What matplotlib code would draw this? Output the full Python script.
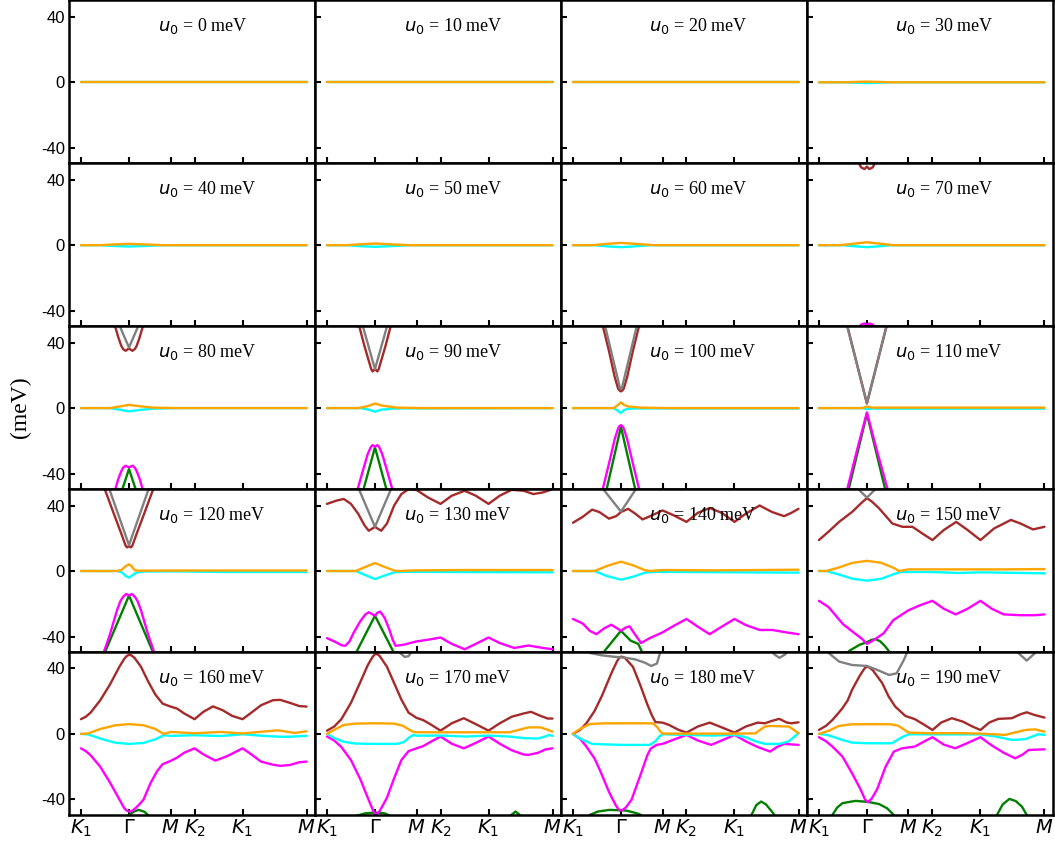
import matplotlib
matplotlib.use("Agg")
import matplotlib.pyplot as plt

plt.rcParams["axes.unicode_minus"] = False
plt.rcParams["mathtext.fontset"] = "dejavusans"

# Twist-potential values, one panel each
U0 = [0, 10, 20, 30, 40, 50, 60, 70, 80, 90,
      100, 110, 120, 130, 140, 150, 160, 170, 180, 190]

# High-symmetry path
K_TICKS = [0.0, 1.0, 1.866, 2.366, 3.366, 4.70]
K_LABELS = [r"$K_1$", r"$\Gamma$", r"$M$", r"$K_2$", r"$K_1$", r"$M$"]
E_TICKS = [-40, 0, 40]

COLORS = {"green": "#008000", "magenta": "#ff00ff", "brown": "#a52a2a",
          "gray": "#808080", "cyan": "#00ffff", "orange": "#ffa500"}
DRAW_ORDER = ["green", "magenta", "brown", "gray", "cyan", "orange"]

FLAT = [(0.0, 0.0), (4.70, 0.0)]

# Band energies (k, E in meV) per panel
u0_bands = dict(cyan=FLAT, orange=FLAT)
u10_bands = dict(cyan=FLAT, orange=FLAT)
u20_bands = dict(cyan=FLAT, orange=FLAT)
u30_bands = dict(
    cyan=[(0, 0), (0.5, 0), (1.0, -0.5), (1.5, 0), (4.70, 0)],
    orange=[(0, 0), (0.5, 0), (1.0, 0.4), (1.5, 0), (4.70, 0)],
)
u40_bands = dict(
    cyan=[(0, 0), (0.4, 0), (0.7, -0.5), (1.0, -0.8), (1.3, -0.5), (1.7, 0), (4.70, 0)],
    orange=[(0, 0), (0.4, 0), (0.7, 0.5), (1.0, 0.8), (1.3, 0.5), (1.7, 0), (4.70, 0)],
)
u50_bands = dict(
    cyan=[(0, 0), (0.4, 0), (0.7, -0.6), (1.0, -1.0), (1.3, -0.6), (1.7, 0), (4.70, 0)],
    orange=[(0, 0), (0.4, 0), (0.7, 0.6), (1.0, 1.0), (1.3, 0.6), (1.7, 0), (4.70, 0)],
)
u60_bands = dict(
    cyan=[(0, 0), (0.45, 0), (0.75, -0.8), (1.0, -1.2), (1.25, -0.8), (1.6, 0), (4.70, 0)],
    orange=[(0, 0), (0.4, 0), (0.7, 0.8), (1.0, 1.4), (1.3, 0.8), (1.7, 0), (4.70, 0)],
)
u70_bands = dict(
    brown=[(0.78, 53), (0.88, 47.5), (0.95, 46.5), (1.0, 48.0), (1.05, 46.5),
           (1.12, 47.5), (1.22, 53)],
    magenta=[(0.78, -53), (0.88, -48.5), (0.95, -47.8), (1.0, -48.8), (1.05, -47.8),
             (1.12, -48.5), (1.22, -53)],
    cyan=[(0, 0), (0.5, 0), (0.8, -0.8), (1.0, -1.2), (1.2, -0.8), (1.5, 0), (4.70, 0)],
    orange=[(0, 0), (0.44, 0), (0.75, 1.0), (1.0, 1.8), (1.25, 1.0), (1.55, 0), (4.70, 0)],
)
u80_bands = dict(
    green=[(0.8, -55), (1.0, -37.2), (1.2, -55)],
    magenta=[(0.6, -58), (0.71, -50), (0.78, -43), (0.84, -38.5), (0.88, -36.3),
             (0.93, -35.2), (0.97, -35.8), (1.0, -36.2), (1.03, -35.8), (1.07, -35.2),
             (1.12, -36.3), (1.16, -38.5), (1.22, -43), (1.29, -50), (1.4, -58)],
    brown=[(0.6, 58), (0.71, 50), (0.78, 43), (0.84, 38), (0.88, 36), (0.93, 35),
           (0.97, 35.8), (1.0, 36.6), (1.03, 35.8), (1.07, 35), (1.12, 36),
           (1.16, 38), (1.22, 43), (1.29, 50), (1.4, 58)],
    gray=[(0.75, 54), (1.0, 37), (1.25, 54)],
    cyan=[(0, 0), (0.6, 0), (0.85, -1.2), (1.0, -2), (1.2, -1.2), (1.5, -0.3),
          (2.0, 0), (4.70, 0)],
    orange=[(0, 0), (0.6, 0), (0.85, 1.2), (1.0, 2), (1.2, 1.2), (1.5, 0.3),
            (2.0, 0), (4.70, 0)],
)
u90_bands = dict(
    green=[(0.72, -54), (1.0, -24), (1.28, -54)],
    magenta=[(0.58, -56), (0.65, -48.4), (0.75, -38), (0.85, -28), (0.91, -24),
             (0.95, -22.6), (1.0, -23.6), (1.05, -22.6), (1.09, -24), (1.15, -28),
             (1.25, -38), (1.35, -48.4), (1.42, -56)],
    brown=[(0.6, 57), (0.68, 49.2), (0.78, 38), (0.88, 28), (0.92, 24), (0.95, 22.4),
           (1.0, 23.8), (1.05, 22.4), (1.08, 24), (1.12, 28), (1.22, 38),
           (1.32, 49.2), (1.4, 57)],
    gray=[(0.7, 55), (1.0, 23.8), (1.3, 55)],
    cyan=[(0, 0), (0.7, 0), (0.88, -1), (1.0, -2.2), (1.12, -1), (1.4, -0.2), (4.70, 0)],
    orange=[(0, 0), (0.65, 0), (0.85, 1.2), (1.0, 2.8), (1.15, 1.5), (1.45, 0.3),
            (2.0, 0), (4.70, 0)],
)
u100_bands = dict(
    green=[(0.66, -55), (1.0, -11.4), (1.34, -55)],
    magenta=[(0.55, -56), (0.63, -48.4), (0.75, -34), (0.87, -19), (0.94, -12.5),
             (0.97, -11), (1.0, -10.4), (1.03, -11), (1.06, -12.5), (1.13, -19),
             (1.25, -34), (1.37, -48.4), (1.45, -56)],
    brown=[(0.55, 58), (0.63, 49.2), (0.75, 35), (0.87, 19), (0.94, 12), (0.97, 10.8),
           (1.0, 10.2), (1.03, 10.8), (1.06, 12), (1.13, 19), (1.25, 35),
           (1.37, 49.2), (1.45, 58)],
    gray=[(0.63, 55), (0.98, 12.2), (1.0, 11.6), (1.02, 12.2), (1.37, 55)],
    cyan=[(0, 0), (0.85, 0), (0.93, -1.5), (1.0, -3), (1.05, -1.5), (1.12, -0.5),
          (1.3, -0.2), (4.70, -0.2)],
    orange=[(0, 0), (0.85, 0), (0.92, 1.5), (1.0, 3.5), (1.06, 2), (1.15, 1),
            (1.4, 0.3), (2.0, 0), (4.70, 0)],
)
u110_bands = dict(
    green=[(0.55, -58), (1.0, -3.5), (1.45, -58)],
    magenta=[(0.5, -58), (0.6, -48.4), (0.8, -25), (1.0, -2.6), (1.2, -25),
             (1.42, -48.4), (1.52, -58)],
    brown=[(0.5, 60), (0.6, 49.2), (1.0, 2.8), (1.4, 49.2), (1.5, 60)],
    gray=[(0.52, 58), (1.0, 3), (1.48, 58)],
    cyan=[(0, 0), (0.9, 0), (1.0, -0.6), (1.1, -0.3), (4.70, -0.3)],
    orange=[(0, 0), (0.9, 0), (1.0, 1), (1.1, 0.3), (4.70, 0.3)],
)
u120_bands = dict(
    green=[(0.45, -53), (1.0, -15), (1.55, -53)],
    magenta=[(0.3, -65), (0.47, -50), (0.6, -39), (0.75, -24), (0.82, -18.5),
             (0.87, -16), (0.94, -14), (1.0, -15), (1.06, -14), (1.13, -16),
             (1.18, -18.5), (1.25, -24), (1.4, -39), (1.53, -50), (1.7, -65)],
    brown=[(0.3, 65), (0.5, 49.6), (0.68, 35.3), (0.85, 22), (0.93, 15.5),
           (0.96, 14.4), (1.0, 15.2), (1.04, 14.4), (1.07, 15.5), (1.15, 22),
           (1.32, 35.3), (1.5, 49.6), (1.7, 65)],
    gray=[(0.4, 66), (1.0, 15.8), (1.6, 66)],
    cyan=[(0, 0), (0.75, 0), (0.85, -0.8), (0.93, -3), (1.0, -4.1), (1.06, -2.8),
          (1.15, -1), (1.3, -0.3), (2.0, -0.2), (3.0, -0.6), (4.70, -0.6)],
    orange=[(0, 0), (0.75, 0), (0.85, 0.8), (0.93, 3), (1.0, 4.1), (1.05, 3),
            (1.12, 0.5), (1.2, 0.2), (2.0, 0.3), (4.70, 0.3)],
)
u130_bands = dict(
    green=[(0.5, -56), (1.0, -27.3), (1.5, -56)],
    magenta=[(0, -41), (0.1, -42.3), (0.2, -43.7), (0.3, -45.3), (0.38, -45.7),
             (0.47, -43), (0.55, -38), (0.7, -30.4), (0.8, -26.5), (0.87, -25.2),
             (0.94, -26.3), (1.0, -27.3), (1.05, -25.5), (1.11, -24.8), (1.2, -28.5),
             (1.29, -35), (1.37, -42), (1.43, -45.7), (1.6, -45), (1.866, -43),
             (2.1, -42), (2.366, -40.6), (2.6, -44.5), (2.87, -47.8), (3.1, -44.5),
             (3.366, -40.6), (3.6, -44), (3.9, -47), (4.2, -45.5), (4.5, -47),
             (4.70, -47.8)],
    brown=[(0, 41), (0.2, 43), (0.35, 44), (0.5, 41), (0.65, 35), (0.78, 28),
           (0.87, 24.6), (0.95, 26), (1.0, 27), (1.05, 26), (1.13, 24.6), (1.25, 29),
           (1.4, 40), (1.55, 47), (1.7, 50), (1.866, 49.5), (2.1, 45), (2.366, 41),
           (2.6, 46), (2.87, 49), (3.1, 46), (3.366, 41), (3.6, 46), (3.85, 49.6),
           (4.1, 49), (4.3, 47), (4.5, 48), (4.70, 50)],
    gray=[(0.55, 58), (1.0, 27), (1.45, 58)],
    cyan=[(0, 0), (0.6, 0), (0.8, -2.5), (1.0, -4.9), (1.2, -2.8), (1.4, -0.8),
          (1.6, -0.5), (4.70, -0.8)],
    orange=[(0, 0), (0.6, 0), (0.8, 2.5), (1.0, 4.9), (1.2, 2.5), (1.4, 0.3),
            (1.5, 0), (1.866, 0.4), (2.9, 0.6), (4.70, 0.6)],
)
u140_bands = dict(
    green=[(0.5, -58), (0.66, -48.8), (1.0, -36.5), (1.2, -42.5), (1.36, -44.5),
           (1.45, -50), (1.55, -58)],
    magenta=[(0, -29.3), (0.2, -32), (0.35, -36.5), (0.49, -38.6), (0.65, -35),
             (0.8, -32.8), (0.92, -35), (1.0, -36.5), (1.1, -34.5), (1.18, -33.8),
             (1.3, -39), (1.42, -44), (1.6, -41), (1.866, -37.5), (2.1, -33.5),
             (2.366, -29.3), (2.6, -34), (2.85, -38.6), (3.1, -34), (3.366, -29.3),
             (3.6, -33), (3.89, -36), (4.15, -36), (4.45, -37.5), (4.70, -38.6)],
    brown=[(0, 29.5), (0.2, 33), (0.4, 37.5), (0.55, 36), (0.75, 32), (0.9, 33.5),
           (1.0, 36), (1.15, 38), (1.3, 35), (1.45, 31.5), (1.65, 34), (1.866, 37),
           (2.1, 34), (2.366, 30), (2.6, 35.5), (2.85, 38.5), (3.1, 35.5),
           (3.366, 30), (3.6, 35), (3.89, 40), (4.15, 36), (4.4, 33.5), (4.55, 35.5),
           (4.70, 38)],
    gray=[(0.55, 53), (1.0, 36.3), (1.38, 53)],
    cyan=[(0, 0), (0.45, 0), (0.7, -3), (1.0, -5.3), (1.25, -3.5), (1.5, -1),
          (1.7, -0.5), (4.70, -1)],
    orange=[(0, 0), (0.45, 0), (0.7, 3), (1.0, 5.7), (1.25, 3.5), (1.5, 0.5),
            (1.6, 0), (1.866, 0.6), (2.9, 0.4), (3.9, 0.6), (4.70, 0.8)],
)
u150_bands = dict(
    green=[(0.45, -58), (0.63, -48.8), (0.85, -45), (1.0, -43.5), (1.1, -42),
           (1.18, -41.6), (1.28, -43), (1.38, -46), (1.46, -49), (1.6, -58)],
    magenta=[(0, -18.2), (0.2, -22), (0.5, -32.4), (0.7, -37), (0.9, -41.5),
             (1.0, -44.5), (1.1, -43), (1.2, -41), (1.35, -38), (1.55, -30),
             (1.866, -24), (2.1, -21), (2.366, -18.2), (2.6, -23), (2.85, -26.5),
             (3.1, -23), (3.366, -18.2), (3.6, -23), (3.85, -26.5), (4.2, -27),
             (4.5, -27), (4.70, -26.5)],
    brown=[(0, 18.9), (0.2, 24), (0.42, 30), (0.7, 36.3), (0.9, 42), (1.0, 44.5),
           (1.1, 42.5), (1.25, 38.4), (1.53, 29), (1.74, 27), (1.95, 27), (2.15, 23),
           (2.366, 18.9), (2.6, 25), (2.86, 30), (3.1, 25), (3.366, 18.9),
           (3.65, 26), (4.0, 31.2), (4.2, 29), (4.46, 25.4), (4.70, 27)],
    gray=[(0.55, 58), (1.0, 44.8), (1.45, 58)],
    cyan=[(0, 0), (0.15, 0), (0.4, -2), (0.7, -4.7), (1.0, -5.9), (1.3, -4.7),
          (1.55, -2), (1.7, -0.6), (2.366, -0.6), (2.9, -1.2), (3.366, -0.8),
          (4.2, -1.2), (4.70, -1.4)],
    orange=[(0, 0), (0.15, 0), (0.4, 2), (0.7, 5), (1.0, 6.2), (1.3, 5), (1.55, 2),
            (1.67, 0), (1.866, 1), (2.9, 1), (3.9, 1), (4.70, 1.2)],
)
u160_bands = dict(
    green=[(0.7, -60), (0.95, -50.5), (1.1, -47.5), (1.2, -46.4), (1.32, -47.5),
           (1.45, -51), (1.6, -60)],
    magenta=[(0, -8.8), (0.1, -10.5), (0.2, -13), (0.4, -20), (0.6, -29.5),
             (0.8, -40), (0.9, -45.3), (0.95, -46.8), (1.0, -47.4), (1.05, -47.2),
             (1.12, -45.8), (1.2, -43.5), (1.3, -40.3), (1.45, -30), (1.58, -23),
             (1.7, -18.5), (1.866, -16.5), (2.0, -14.5), (2.15, -11.5), (2.366, -8.8),
             (2.55, -12.5), (2.8, -16.3), (3.05, -13.5), (3.366, -8.8), (3.55, -12.5),
             (3.75, -16.9), (4.0, -18.8), (4.15, -19.5), (4.35, -19), (4.55, -17.3),
             (4.70, -16.9)],
    brown=[(0, 9), (0.1, 10.5), (0.2, 13), (0.4, 20.5), (0.6, 30), (0.8, 41),
           (0.9, 45.8), (0.95, 47.5), (1.0, 48.3), (1.05, 48), (1.12, 46.3),
           (1.25, 41), (1.4, 32), (1.55, 24), (1.7, 18.5), (1.866, 16.7), (2.0, 15.5),
           (2.15, 12.5), (2.366, 9), (2.55, 13.5), (2.75, 16.8), (2.95, 14.5),
           (3.15, 11), (3.366, 9), (3.55, 13), (3.75, 17.5), (4.0, 20.6),
           (4.15, 20.8), (4.35, 19), (4.55, 17), (4.70, 16.7)],
    cyan=[(0, 0), (0.15, -0.3), (0.4, -2.8), (0.7, -5.3), (1.0, -6.1), (1.3, -5.5),
          (1.55, -3.3), (1.72, -0.8), (1.866, -1.2), (2.366, -0.8), (2.9, -1.3),
          (3.366, -0.2), (3.8, -1.2), (4.2, -1.8), (4.5, -1.5), (4.70, -1.2)],
    orange=[(0, 0), (0.15, 0.3), (0.4, 3), (0.7, 5.2), (1.0, 6), (1.3, 5.3),
            (1.55, 3), (1.72, 0), (1.866, 1.2), (2.366, 0.4), (2.9, 1.2),
            (3.366, 0.3), (4.1, 2.2), (4.45, 0.6), (4.70, 1.6)],
)
u170_bands = dict(
    green=[(0.3, -60), (0.55, -50.5), (0.8, -48.5), (1.0, -48), (1.2, -48.5),
           (1.35, -50.5), (1.55, -60), (2.5, -70), (3.6, -60), (3.8, -50.5),
           (3.93, -47.4), (4.06, -50.5), (4.25, -60), (4.70, -65)],
    magenta=[(0, -1.6), (0.15, -4), (0.3, -8), (0.5, -16), (0.7, -28), (0.85, -39),
             (0.95, -46), (0.99, -48.3), (1.02, -48.9), (1.06, -48.4), (1.1, -47),
             (1.25, -39), (1.4, -27), (1.55, -16), (1.7, -10.5), (1.866, -8.8),
             (2.0, -7.5), (2.15, -5), (2.366, -1.6), (2.6, -6), (2.85, -8.8),
             (3.1, -5.5), (3.366, -1.6), (3.6, -6), (3.85, -10), (4.1, -12.6),
             (4.2, -12.8), (4.4, -11.5), (4.55, -9.5), (4.70, -8.8)],
    brown=[(0, 2), (0.15, 4.5), (0.3, 9), (0.5, 19), (0.7, 32), (0.85, 42),
           (0.95, 47), (0.99, 48.4), (1.02, 48.9), (1.06, 48.5), (1.1, 47.5),
           (1.25, 41), (1.4, 31), (1.55, 21), (1.7, 13), (1.866, 9.8), (2.0, 8.5),
           (2.15, 6), (2.366, 2), (2.6, 6.5), (2.85, 9.6), (3.1, 6), (3.366, 2),
           (3.6, 6.5), (3.85, 10.5), (4.1, 12.5), (4.25, 13.5), (4.45, 11),
           (4.6, 9.4), (4.70, 9.4)],
    gray=[(1.2, 60), (1.5, 50), (1.62, 47), (1.7, 47.5), (1.78, 51), (1.9, 60)],
    cyan=[(0, 0), (0.15, -2.5), (0.35, -4.8), (0.6, -5.9), (1.0, -6.1), (1.45, -6.1),
          (1.6, -5), (1.72, -2), (1.8, -0.6), (1.866, -1.1), (2.366, -1),
          (2.9, -1.6), (3.366, -1), (3.8, -1.6), (4.1, -2.6), (4.4, -2.8),
          (4.58, -1.2), (4.63, -0.6), (4.70, -1.2)],
    orange=[(0, 0), (0.15, 2.5), (0.35, 5.5), (0.6, 6.3), (1.0, 6.5), (1.4, 6.3),
            (1.58, 5), (1.72, 2.5), (1.8, 1.2), (1.866, 1), (2.366, 1), (2.9, 1),
            (3.366, 1), (3.8, 1), (4.0, 2.5), (4.2, 4), (4.45, 4), (4.6, 2.5),
            (4.70, 1.4)],
)
u180_bands = dict(
    green=[(0.15, -60), (0.35, -49.5), (0.52, -47.4), (0.76, -46.4), (1.11, -46.8),
           (1.32, -48.4), (1.42, -49.5), (1.6, -60), (2.5, -75), (3.55, -62),
           (3.72, -49.5), (3.82, -43.5), (3.92, -41.3), (4.02, -43), (4.12, -46.5),
           (4.2, -49.5), (4.35, -60)],
    magenta=[(0, 0), (0.15, -3), (0.28, -7.7), (0.45, -15), (0.56, -22), (0.76, -36),
             (0.9, -44), (0.95, -46), (0.99, -46.8), (1.04, -46.3), (1.1, -45),
             (1.22, -40.3), (1.42, -24), (1.55, -13), (1.62, -9), (1.74, -6.7),
             (1.866, -6.1), (2.1, -3.5), (2.366, -0.6), (2.6, -4), (2.88, -6.7),
             (3.1, -4), (3.366, -0.6), (3.6, -4.5), (3.85, -8), (4.11, -10.8),
             (4.25, -8), (4.4, -6.1), (4.70, -6.7)],
    brown=[(0, 0), (0.15, 2.5), (0.28, 6.5), (0.45, 14), (0.6, 23), (0.8, 37),
           (0.92, 44.5), (0.97, 46.6), (1.0, 47.2), (1.04, 47), (1.08, 46.5),
           (1.25, 41), (1.4, 30), (1.55, 18), (1.65, 11), (1.72, 7.2), (1.866, 6.9),
           (2.0, 5.5), (2.2, 2.5), (2.366, 0.8), (2.6, 4.5), (2.85, 6.9), (3.1, 4),
           (3.366, 0.8), (3.6, 4.5), (3.85, 6.9), (4.0, 6.5), (4.15, 8), (4.3, 9.2),
           (4.45, 7), (4.55, 6.5), (4.70, 7.1)],
    gray=[(0.2, 52), (0.35, 49.5), (0.6, 48), (0.9, 47), (1.1, 46.5), (1.3, 45.5),
          (1.5, 43.5), (1.63, 41.5), (1.75, 43), (1.8, 48), (1.84, 52), (2.0, 62),
          (3.8, 62), (4.1, 52), (4.2, 48.5), (4.3, 46.5), (4.42, 48.5), (4.5, 52),
          (4.70, 58)],
    cyan=[(0, 0), (0.1, -2), (0.21, -3.7), (0.4, -6.1), (1.0, -6.7), (1.6, -6.7),
          (1.72, -4.5), (1.8, -1.5), (1.866, -0.2), (2.366, -0.6), (2.9, -1),
          (3.366, -0.6), (3.6, -2), (3.8, -4.5), (4.0, -6.1), (4.3, -6.1),
          (4.5, -4.5), (4.62, -1.5), (4.70, 0.4)],
    orange=[(0, 0), (0.1, 2.2), (0.21, 4), (0.35, 6), (0.6, 6.4), (1.0, 6.5),
            (1.5, 6.5), (1.67, 6.4), (1.76, 4), (1.82, 1.5), (1.866, 0.2),
            (2.366, 0.2), (3.366, 0.2), (3.8, 0.3), (3.9, 2.5), (4.0, 4.5),
            (4.1, 4.9), (4.5, 4.5), (4.6, 2.5), (4.70, 0.4)],
)
u190_bands = dict(
    green=[(0.1, -62), (0.28, -49.5), (0.38, -45), (0.49, -42.3), (0.76, -40.9),
           (1.02, -41.5), (1.25, -42.8), (1.42, -45.4), (1.56, -49.5), (1.7, -58),
           (2.5, -75), (3.55, -60), (3.71, -49.5), (3.83, -43), (3.97, -39.7),
           (4.1, -41), (4.23, -44.4), (4.33, -49.5), (4.45, -58)],
    magenta=[(0, -2), (0.15, -4.5), (0.28, -7.7), (0.49, -13.8), (0.69, -24),
             (0.87, -34), (0.96, -40), (1.02, -41.7), (1.1, -39.5), (1.21, -34),
             (1.39, -20), (1.56, -10.8), (1.73, -8.8), (2.0, -7.7), (2.2, -4.5),
             (2.366, -2), (2.6, -6.5), (2.84, -8.8), (3.1, -5.5), (3.366, -2),
             (3.6, -7), (3.85, -11.5), (4.09, -14.9), (4.25, -12.5), (4.37, -9.8),
             (4.70, -9.4)],
    brown=[(0, 2.4), (0.15, 5), (0.28, 8.5), (0.4, 12.5), (0.49, 15.7), (0.6, 20.5),
           (0.69, 26.9), (0.85, 35.5), (0.95, 40), (1.0, 41.1), (1.05, 40.6),
           (1.12, 39), (1.32, 31), (1.45, 23), (1.59, 16.7), (1.8, 11), (2.0, 9),
           (2.2, 5.5), (2.366, 2.4), (2.55, 7), (2.77, 9.6), (3.0, 7.5), (3.2, 4.5),
           (3.366, 2.4), (3.55, 7), (3.74, 9.2), (4.02, 9.6), (4.2, 12), (4.33, 13.2),
           (4.5, 11.5), (4.70, 10)],
    gray=[(0.1, 52), (0.21, 49.3), (0.42, 44.2), (0.69, 42.1), (1.0, 41.5),
          (1.25, 38.7), (1.46, 36), (1.62, 37), (1.77, 45.2), (1.84, 50), (1.9, 55),
          (2.5, 65), (3.5, 65), (4.0, 56), (4.16, 49.3), (4.33, 44.8), (4.5, 49.3),
          (4.6, 55), (4.70, 60)],
    cyan=[(0, 0), (0.15, -0.5), (0.28, -1.6), (0.49, -3.7), (0.69, -5.3),
          (1.0, -5.7), (1.52, -5.7), (1.73, -2), (1.87, -0.2), (2.366, -0.3),
          (3.366, -0.3), (3.67, -1.5), (4.02, -3.7), (4.3, -3.2), (4.57, -0.2),
          (4.70, -0.6)],
    orange=[(0, 0), (0.1, 1), (0.21, 2), (0.42, 4.9), (0.69, 5.9), (1.0, 5.9),
            (1.5, 5.9), (1.65, 5), (1.73, 3.5), (1.87, 0.8), (2.366, 0.4),
            (2.9, 0.5), (3.366, 0.2), (3.88, -0.6), (4.1, 1), (4.3, 2.4), (4.5, 2.8),
            (4.70, 1.4)],
)

PANELS = [u0_bands, u10_bands, u20_bands, u30_bands, u40_bands,
          u50_bands, u60_bands, u70_bands, u80_bands, u90_bands,
          u100_bands, u110_bands, u120_bands, u130_bands, u140_bands,
          u150_bands, u160_bands, u170_bands, u180_bands, u190_bands]

NROWS, NCOLS = 5, 4

fig, axes = plt.subplots(NROWS, NCOLS, figsize=(10.55, 8.44), dpi=100)
fig.subplots_adjust(left=0.0654, right=0.998, bottom=0.0344, top=0.9995,
                    wspace=0, hspace=0)

for idx, (u0, bands) in enumerate(zip(U0, PANELS)):
    r, c = divmod(idx, NCOLS)
    ax = axes[r, c]
    for name in DRAW_ORDER:
        if name not in bands:
            continue
        ks, es = zip(*bands[name])
        ax.plot(ks, es, color=COLORS[name], lw=1.7, solid_capstyle="round",
                solid_joinstyle="round")
    ax.set_xlim(-0.25, 4.875)
    ax.set_ylim(-49.5, 50)
    ax.set_xticks(K_TICKS)
    ax.set_yticks(E_TICKS)
    ax.tick_params(direction="in", length=4.5, width=1.5, top=False, right=False)
    if r == NROWS - 1:
        ax.set_xticklabels(K_LABELS, fontsize=14)
        ax.tick_params(axis="x", pad=2)
    else:
        ax.set_xticklabels([])
    if c == 0:
        ax.set_yticklabels([str(v) for v in E_TICKS], fontsize=12,
                           family="Liberation Sans")
        ax.tick_params(axis="y", pad=3)
    else:
        ax.set_yticklabels([])
    for sp in ax.spines.values():
        sp.set_linewidth(1.8)
    ax.text(0.36, 0.84, rf"$u_0$ = {u0} meV", transform=ax.transAxes,
            fontsize=13, family="Liberation Serif", ha="left", va="center",
            zorder=10)

fig.text(0.019, 0.518, "(meV)", rotation=90, fontsize=17,
         family="Liberation Serif", ha="center", va="center")

fig.savefig("out.png", dpi=100)
